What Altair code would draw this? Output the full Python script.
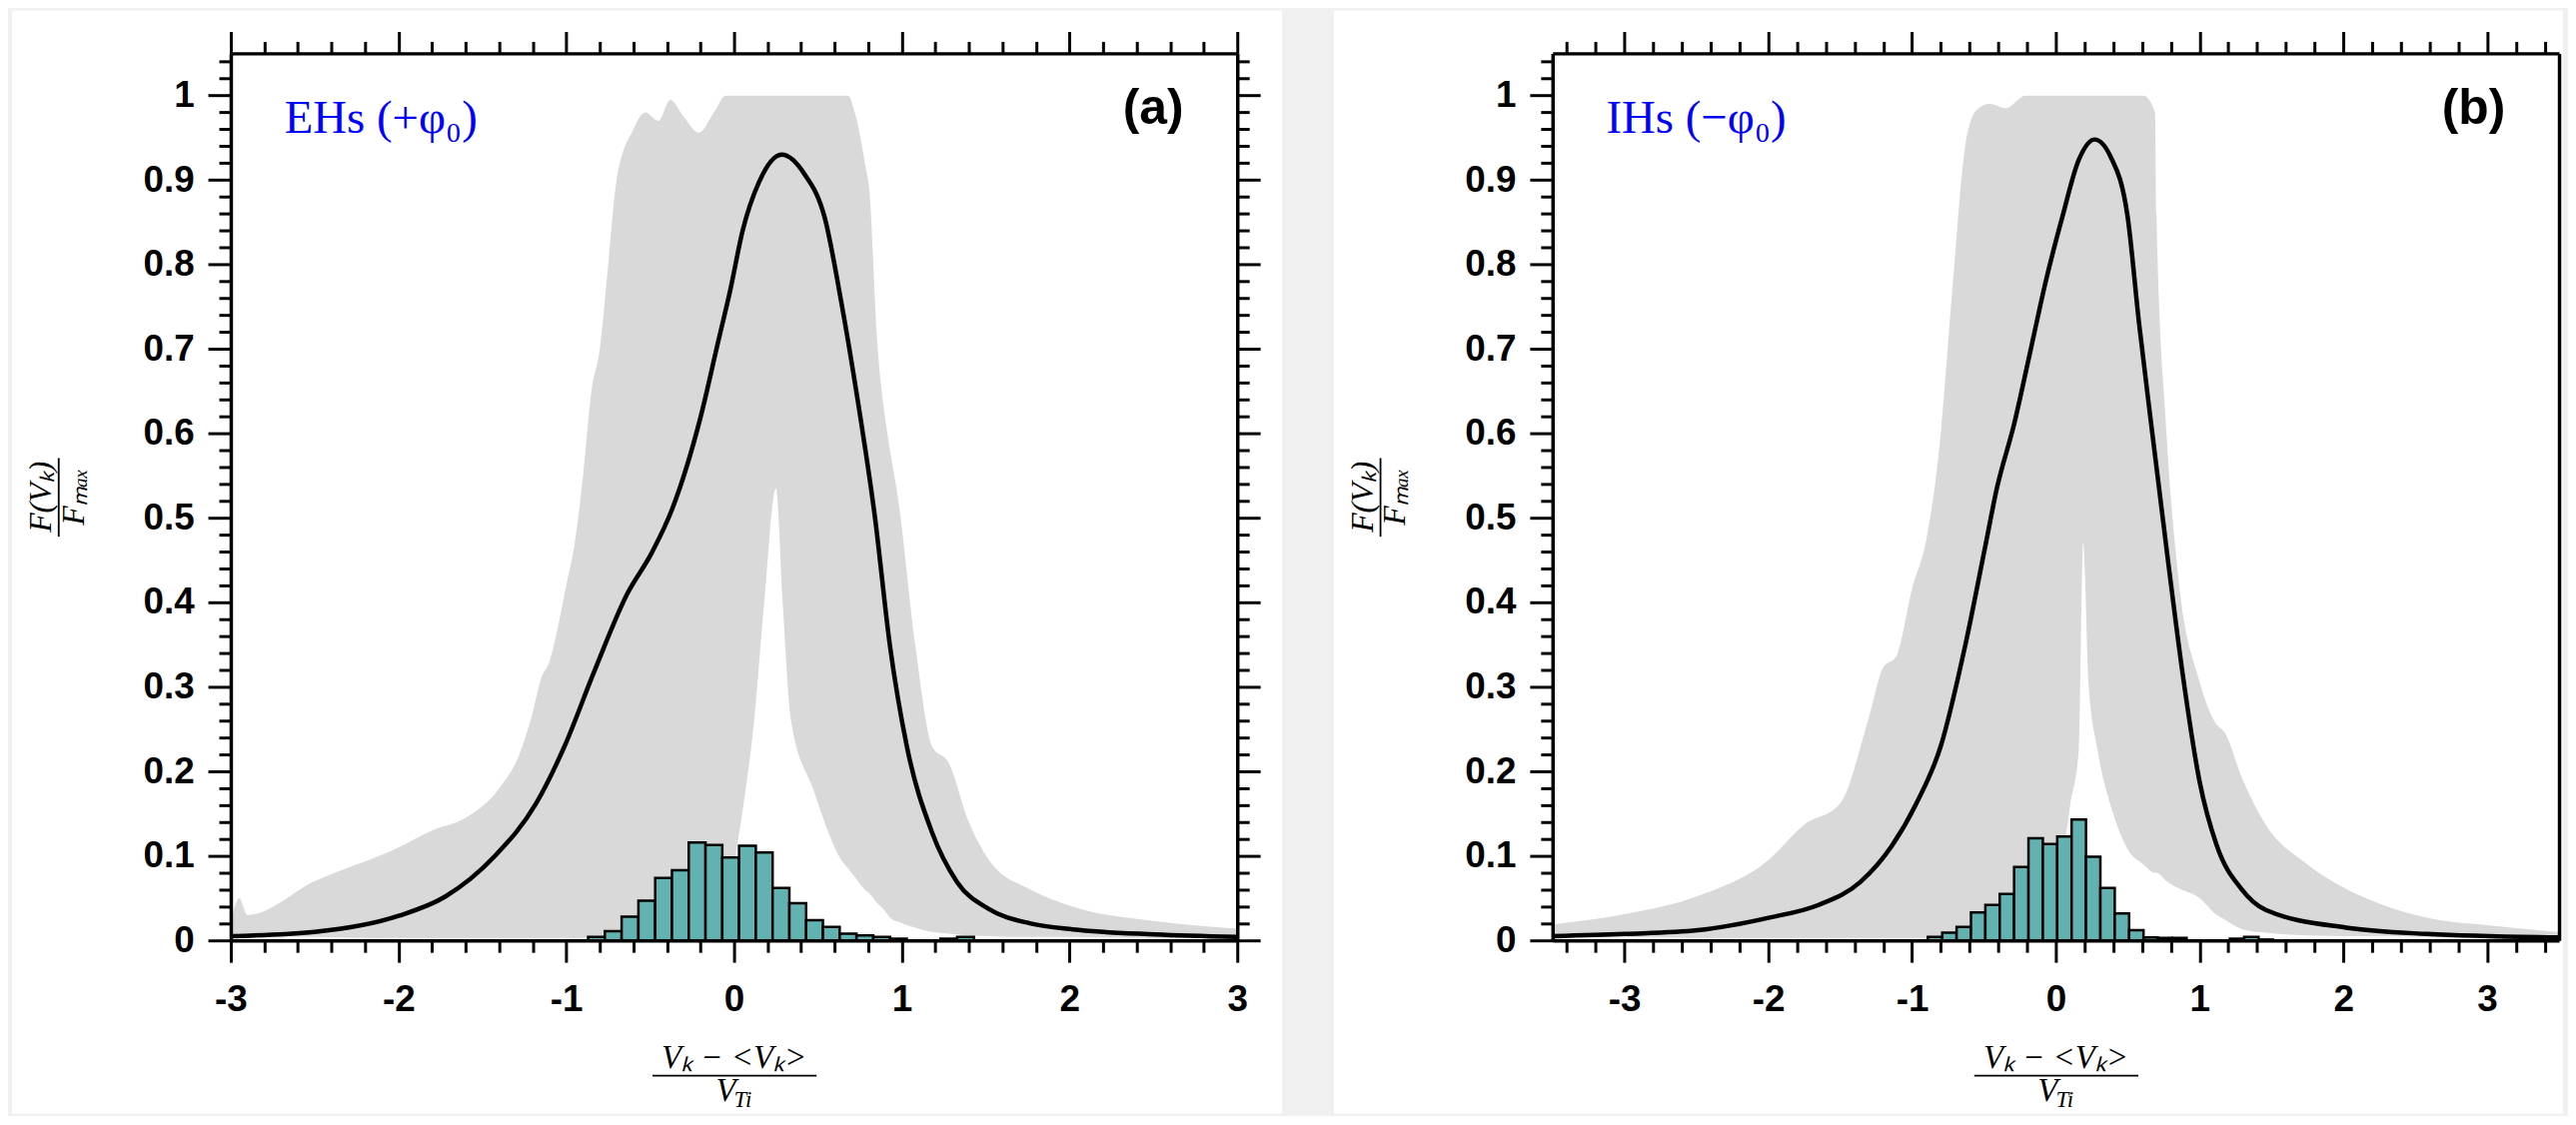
import altair as alt
import pandas as pd

# ---------------- panel (a) : EHs ----------------
a_mean_x = [-3.0, -2.5, -2.0, -1.72, -1.43, -1.18, -1.01, -0.84, -0.64, -0.49, -0.37, -0.20, -0.10, -0.02,
            0.05, 0.15, 0.285, 0.42, 0.54, 0.64, 0.74, 0.84, 0.93, 1.03, 1.18, 1.33, 1.52, 1.77, 2.02, 2.51, 3.0]
a_mean_y = [0.005, 0.010, 0.029, 0.052, 0.099, 0.162, 0.230, 0.315, 0.409, 0.459, 0.510, 0.619, 0.704, 0.772,
            0.839, 0.898, 0.930, 0.907, 0.856, 0.755, 0.636, 0.501, 0.348, 0.230, 0.128, 0.069, 0.037, 0.020,
            0.013, 0.007, 0.004]

a_band_x = [-3.0, -2.95, -2.9, -2.5, -2.0, -1.8, -1.6, -1.4, -1.28, -1.2, -1.15, -1.1, -1.0, -0.95, -0.9, -0.85,
            -0.8, -0.75, -0.7, -0.6, -0.53, -0.45, -0.38, -0.3, -0.21, -0.12, -0.05, 0.0, 0.07, 0.12, 0.18, 0.25,
            0.29, 0.34, 0.47, 0.64, 0.68, 0.72, 0.78, 0.81, 0.85, 0.9, 0.93, 0.98, 1.08, 1.18, 1.28, 1.4, 1.52,
            1.77, 2.02, 2.5, 3.0]
a_band_hi = [0.02, 0.05, 0.03, 0.07, 0.11, 0.13, 0.145, 0.18, 0.22, 0.27, 0.31, 0.33, 0.42, 0.47, 0.55, 0.65,
             0.70, 0.80, 0.90, 0.96, 0.98, 0.97, 0.995, 0.975, 0.956, 0.98, 1.0, 1.0, 1.0, 1.0, 1.0, 1.0,
             1.0, 1.0, 1.0, 1.0, 1.0, 0.98, 0.92, 0.88, 0.72, 0.62, 0.58, 0.52, 0.35, 0.23, 0.21, 0.14, 0.095,
             0.06, 0.04, 0.023, 0.014]
a_band_lo = [0.008, 0.008, 0.007, 0.004, 0.003, 0.003, 0.003, 0.003, 0.003, 0.003, 0.003, 0.003, 0.003, 0.003,
             0.003, 0.004, 0.004, 0.004, 0.005, 0.005, 0.005, 0.006, 0.007, 0.008, 0.01, 0.02, 0.04, 0.09, 0.18,
             0.26, 0.40, 0.535, 0.40, 0.26, 0.18, 0.095, 0.085, 0.075, 0.06, 0.055, 0.045, 0.035, 0.027, 0.022,
             0.015, 0.01, 0.008, 0.006, 0.005, 0.004, 0.004, 0.003, 0.003]

a_hist_left = [-0.87, -0.77, -0.67, -0.57, -0.47, -0.37, -0.27, -0.17, -0.07, 0.03, 0.13, 0.23, 0.33, 0.43,
               0.53, 0.63, 0.73, 0.83, 0.93, 1.23, 1.33]
a_hist_h = [0.004, 0.011, 0.028, 0.047, 0.074, 0.083, 0.116, 0.113, 0.098, 0.112, 0.104, 0.062, 0.044, 0.024,
            0.016, 0.008, 0.006, 0.004, 0.002, 0.002, 0.004]

# ---------------- panel (b) : IHs ----------------
b_mean_x = [-3.5, -3.0, -2.49, -1.99, -1.65, -1.36, -1.14, -0.97, -0.80, -0.63, -0.49, -0.41, -0.29, -0.18,
            -0.07, 0.045, 0.16, 0.27, 0.38, 0.50, 0.58, 0.67, 0.78, 0.89, 1.00, 1.12, 1.29, 1.46, 2.02, 2.58, 3.5]
b_mean_y = [0.005, 0.0076, 0.012, 0.027, 0.042, 0.069, 0.112, 0.162, 0.230, 0.349, 0.467, 0.535, 0.611, 0.695,
            0.780, 0.856, 0.924, 0.948, 0.928, 0.856, 0.729, 0.602, 0.450, 0.306, 0.188, 0.112, 0.061, 0.036,
            0.015, 0.0076, 0.0034]

b_band_x = [-3.5, -3.0, -2.5, -2.0, -1.75, -1.5, -1.3, -1.2, -1.11, -1.0, -0.9, -0.8, -0.72, -0.63, -0.55,
            -0.46, -0.35, -0.21, -0.1, 0.0, 0.05, 0.1, 0.16, 0.19, 0.23, 0.29, 0.4, 0.5, 0.61, 0.69, 0.7, 0.77,
            0.85, 1.0, 1.12, 1.17, 1.3, 1.46, 1.75, 2.02, 2.13, 2.58, 3.0, 3.5]
b_band_hi = [0.019, 0.031, 0.052, 0.095, 0.137, 0.162, 0.264, 0.323, 0.336, 0.416, 0.475, 0.60, 0.77, 0.94,
             0.983, 0.99, 0.985, 1.0, 1.0, 1.0, 1.0, 1.0, 1.0, 1.0, 1.0, 1.0, 1.0, 1.0, 1.0, 0.98, 0.86, 0.60,
             0.433, 0.306, 0.255, 0.247, 0.19, 0.137, 0.09, 0.061, 0.052, 0.027, 0.018, 0.010]
b_band_lo = [0.004, 0.004, 0.003, 0.003, 0.003, 0.003, 0.003, 0.003, 0.003, 0.003, 0.003, 0.004, 0.004, 0.004,
             0.005, 0.005, 0.006, 0.01, 0.02, 0.06, 0.1, 0.16, 0.226, 0.47, 0.30, 0.226, 0.15, 0.108, 0.09,
             0.08, 0.08, 0.07, 0.062, 0.05, 0.03, 0.025, 0.013, 0.009, 0.006, 0.005, 0.005, 0.004, 0.003, 0.003]

b_hist_left = [-0.89, -0.79, -0.69, -0.59, -0.49, -0.39, -0.29, -0.19, -0.09, 0.01, 0.11, 0.21, 0.31, 0.41,
               0.51, 0.61, 0.71, 0.81, 1.21, 1.31, 1.41]
b_hist_h = [0.004, 0.009, 0.016, 0.033, 0.042, 0.055, 0.087, 0.121, 0.114, 0.123, 0.143, 0.099, 0.062, 0.032,
            0.012, 0.0035, 0.003, 0.003, 0.002, 0.004, 0.001]

BIN_W = 0.1

# ---------------- styling ----------------
GRAY = "#d9d9d9"
TEAL = "#62b2b1"
SANS = "Liberation Sans"
SERIF = "Liberation Serif"
PW, PH = 1012, 892

MAJ_X = "abs(datum.value - round(datum.value)) < 1e-6"
MAJ_Y = "abs(datum.value * 10 - round(datum.value * 10)) < 1e-6"


def tick_list(lo, hi, step):
    n = int(round((hi - lo) / step))
    return [round(lo + i * step, 2) for i in range(n + 1)]


ONE = pd.DataFrame({"k": [0]})


def txt(s, x, y, **kw):
    return alt.Chart(ONE).mark_text(text=s, **kw).encode(x=alt.value(x), y=alt.value(y))


def panel(mx, my, bx, bhi, blo, hl, hh, xdom, tick_lo, tick_hi, tag, letter, bg_x2, right_ticks):
    xs = alt.Scale(domain=xdom, nice=False, zero=False)
    ys = alt.Scale(domain=[0, 1.05], nice=False, zero=False)
    xt = tick_list(tick_lo, tick_hi, 0.2)
    yt = tick_list(0, 1.04, 0.02)
    common = dict(grid=False, title=None, domainColor="black", domainWidth=3.5, tickColor="black",
                  tickWidth=3, zindex=1, labelFont=SANS, labelFontSize=37, labelFontWeight="bold",
                  labelColor="black", labelOverlap=False, labelFlush=False)
    xsize = {"condition": {"test": MAJ_X, "value": 22}, "value": 12}
    ysize = {"condition": {"test": MAJ_Y, "value": 23}, "value": 12}
    ax_bottom = alt.Axis(orient="bottom", values=xt, tickSize=xsize, labelPadding=20,
                         labelExpr=f"{MAJ_X} ? '' + round(datum.value) : ''", **common)
    ax_top = alt.Axis(orient="top", values=xt, tickSize=xsize, labels=False, **common)
    ax_left = alt.Axis(orient="left", values=yt, tickSize=ysize, labelPadding=14,
                       labelExpr=f"{MAJ_Y} ? '' + round(datum.value * 10) / 10 : ''", **common)
    if right_ticks:
        ax_right = alt.Axis(orient="right", values=yt, tickSize=ysize, labels=False, **common)
    else:
        ax_right = alt.Axis(orient="right", values=yt, ticks=False, labels=False, **common)

    bg = alt.Chart(ONE).mark_rect(color="white").encode(
        x=alt.value(-220), x2=alt.value(bg_x2), y=alt.value(-43), y2=alt.value(1066))

    band = pd.DataFrame({"x": bx, "hi": bhi, "lo": blo})
    area = alt.Chart(band).mark_area(color=GRAY, interpolate="monotone").encode(
        x=alt.X("x:Q", scale=xs, axis=ax_bottom),
        y=alt.Y("hi:Q", scale=ys, axis=ax_left),
        y2="lo:Q")

    hist = pd.DataFrame({"s": hl, "e": [v + BIN_W for v in hl], "h": hh, "z": [0.0] * len(hl)})
    bars = alt.Chart(hist).mark_rect(color=TEAL, stroke="black", strokeWidth=2.5).encode(
        x=alt.X("s:Q", scale=xs, axis=None), x2="e:Q",
        y=alt.Y("h:Q", scale=ys, axis=None), y2="z:Q")

    mean = pd.DataFrame({"x": mx, "y": my})
    line = alt.Chart(mean).mark_line(color="black", strokeWidth=4.5, interpolate="monotone").encode(
        x=alt.X("x:Q", scale=xs, axis=ax_top),
        y=alt.Y("y:Q", scale=ys, axis=ax_right))

    ann = [
        txt(tag, 54, 80, align="left", baseline="alphabetic", font=SERIF, fontSize=47, color="#0000ff"),
        txt(letter, 958, 71, align="right", baseline="alphabetic", font=SANS, fontSize=50,
            fontWeight="bold", color="black"),
        # x-axis title as a fraction
        txt("Vₖ  −  <Vₖ>", 506, 1020, align="center", baseline="alphabetic", font=SERIF,
            fontStyle="italic", fontSize=33, color="black"),
        alt.Chart(ONE).mark_rule(color="black", strokeWidth=1.8).encode(
            x=alt.value(424), x2=alt.value(589), y=alt.value(1028)),
        txt("V", 508, 1054, align="right", baseline="alphabetic", font=SERIF, fontStyle="italic",
            fontSize=33, color="black"),
        txt("Ti", 506, 1060, align="left", baseline="alphabetic", font=SERIF, fontStyle="italic",
            fontSize=23, color="black"),
        # y-axis title as a rotated fraction
        txt("F(Vₖ)", -181, 446, align="center", baseline="alphabetic", font=SERIF, fontStyle="italic",
            fontSize=32, angle=270, color="black"),
        alt.Chart(ONE).mark_rule(color="black", strokeWidth=1.8).encode(
            x=alt.value(-173), y=alt.value(407), y2=alt.value(486)),
        txt("Fₘₐₓ", -148, 446, align="center", baseline="alphabetic", font=SERIF, fontStyle="italic",
            fontSize=32, angle=270, color="black"),
    ]
    return alt.layer(bg, area, bars, line, *ann).resolve_axis(
        x="independent", y="independent").properties(width=PW, height=PH)


pa = panel(a_mean_x, a_mean_y, a_band_x, a_band_hi, a_band_lo, a_hist_left, a_hist_h,
           [-3, 3], -3, 3, "EHs (+φ₀)", "(a)", 1057, True)
pb = panel(b_mean_x, b_mean_y, b_band_x, b_band_hi, b_band_lo, b_hist_left, b_hist_h,
           [-3.5, 3.5], -3.4, 3.4, "IHs (−φ₀)", "(b)", 1016, False)

chart = alt.hconcat(pa, pb, spacing=52).properties(
    background="#f0f0f0",
    padding={"left": 4, "top": 0, "right": 0, "bottom": 0},
).configure_view(stroke=None)

chart.save("out.html", embed_options={"renderer": "svg", "actions": False})
